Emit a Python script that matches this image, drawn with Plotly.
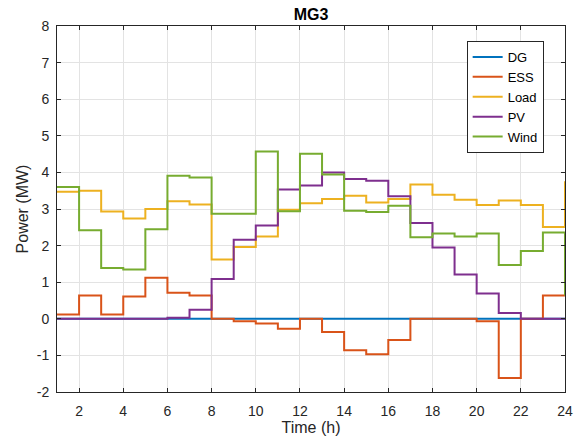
import plotly.graph_objects as go

hours = list(range(1, 25))
dg = [0.0] * 24
ess = [0.12, 0.64, 0.12, 0.61, 1.12, 0.71, 0.64, 0.0, -0.07, -0.13, -0.27, 0.0,
       -0.36, -0.86, -0.97, -0.58, 0.0, 0.0, 0.0, -0.07, -1.62, 0.0, 0.64, 0.64]
load = [3.47, 3.5, 2.93, 2.74, 3.0, 3.21, 3.12, 1.62, 1.96, 2.25, 2.98, 3.16,
        3.27, 3.36, 3.18, 3.27, 3.67, 3.39, 3.25, 3.11, 3.23, 3.11, 2.51, 3.76]
pv = [0.0, 0.0, 0.0, 0.0, 0.0, 0.03, 0.25, 1.09, 2.16, 2.55, 3.53, 3.64,
      4.0, 3.82, 3.77, 3.35, 2.62, 1.95, 1.21, 0.69, 0.16, 0.0, 0.0, 0.0]
wind = [3.6, 2.42, 1.39, 1.35, 2.45, 3.91, 3.86, 2.87, 2.87, 4.57, 2.94, 4.51,
        3.94, 2.95, 2.92, 3.09, 2.23, 2.33, 2.25, 2.33, 1.47, 1.85, 2.36, 0.64]

series = [("DG", dg, "#0072BD"), ("ESS", ess, "#D95319"), ("Load", load, "#EDB120"),
          ("PV", pv, "#7E2F8E"), ("Wind", wind, "#77AC30")]

xticks = list(range(2, 25, 2))
xlabels = [str(v) for v in xticks]
yticks = list(range(-2, 9))
ylabels = [str(v) for v in yticks]

fig = go.Figure()
for name, vals, col in series:
    fig.add_trace(go.Scatter(x=hours, y=vals, name=name, mode="lines",
                             line=dict(color=col, width=2, shape="hv")))

W, H = 580, 441
fnt = "Liberation Sans, Arial, sans-serif"
fig.update_layout(
    width=W, height=H,
    paper_bgcolor="white", plot_bgcolor="white",
    margin=dict(l=57, r=15, t=26, b=49, autoexpand=False),
    font=dict(family=fnt, size=14, color="#262626"),
    title=dict(text="<b>MG3</b>", x=0.5, xanchor="center", xref="paper",
               y=1 - 14 / H, yanchor="middle",
               font=dict(size=16, color="black", family=fnt)),
    legend=dict(x=0.958, y=0.959, xanchor="right", yanchor="top",
                bgcolor="white", bordercolor="#262626", borderwidth=1,
                font=dict(size=13, color="black"), tracegroupgap=0,
                itemwidth=30),
    showlegend=True,
)
fig.update_xaxes(range=[1, 24], tickvals=xticks, ticktext=xlabels, showgrid=True,
                 gridcolor="#e3e3e3", gridwidth=1, showline=True, linecolor="#262626",
                 linewidth=1, mirror="ticks", ticks="inside", ticklen=4,
                 tickcolor="#262626", zeroline=False, automargin=False,
                 ticklabelstandoff=6, ticklabeloverflow="allow",
                 tickfont=dict(size=14, color="#262626"),
                 title=dict(text="Time (h)", standoff=2, font=dict(size=16, color="#262626")))
fig.update_yaxes(range=[-2, 8], tickvals=yticks, ticktext=ylabels, showgrid=True,
                 gridcolor="#e3e3e3", gridwidth=1, showline=True, linecolor="#262626",
                 linewidth=1, mirror="ticks", ticks="inside", ticklen=4,
                 tickcolor="#262626", zeroline=False, automargin=False,
                 ticklabelstandoff=4,
                 tickfont=dict(size=14, color="#262626"),
                 title=dict(text="Power (MW)", standoff=4, font=dict(size=16, color="#262626")))

fig.write_html("out.html", config={"displayModeBar": False},
               post_script="document.body.style.margin='0px';")
